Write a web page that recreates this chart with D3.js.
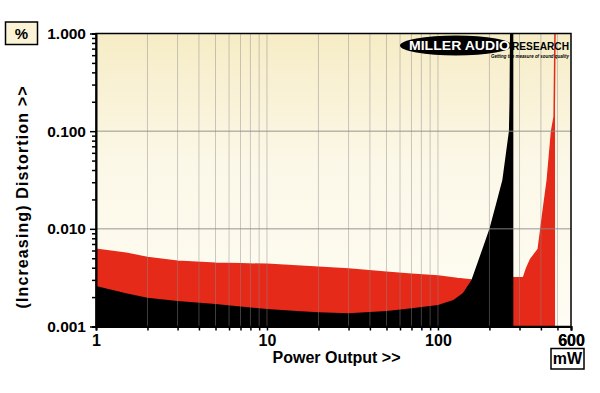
<!DOCTYPE html>
<html>
<head>
<meta charset="utf-8">
<script src="https://cdn.jsdelivr.net/npm/d3@7"></script>
<style>
  html, body { margin: 0; padding: 0; background: #fff; }
  svg { display: block; }
  text { font-family: "Liberation Sans", Arial, sans-serif; font-weight: bold; }
</style>
</head>
<body>
<svg id="chart" width="600" height="393"></svg>
<script>
// ---- data ----
const xTickLabels = [1, 10, 100, 600];
const yTickLabels = [0.001, 0.01, 0.1, 1];
const yTickText = ["0.001", "0.010", "0.100", "1.000"];

// black trace (power output mW, distortion %)
const blackX = [1, 1.5, 2, 3, 5, 7, 10, 15, 20, 30, 50, 70, 100, 123, 140, 157, 180, 200, 220, 238, 250, 260, 262, 264, 276];
const blackY = [0.0026, 0.00219, 0.00197, 0.00182, 0.0017, 0.0016, 0.00151, 0.00144, 0.0014, 0.00137, 0.00144, 0.00154, 0.00166, 0.00187, 0.0022, 0.003, 0.0059, 0.01, 0.0187, 0.0316, 0.06, 0.1, 0.2, 1.2, 1.2];

// red trace
const redX = [1, 1.5, 2, 3, 5, 7, 10, 20, 30, 50, 70, 100, 130, 157, 200, 278, 316, 330, 348, 386, 413, 436, 462, 478, 484];
const redY = [0.00617, 0.00561, 0.0051, 0.00465, 0.00444, 0.00438, 0.00433, 0.00404, 0.00388, 0.00359, 0.00342, 0.00329, 0.0031, 0.003, 0.003, 0.00316, 0.00316, 0.00394, 0.00487, 0.00617, 0.0156, 0.0316, 0.1, 0.14, 1.2];

// ---- layout ----
const svg = d3.select("#chart");
const L = 96, R = 571, T = 33.5, B = 326.5;
const x = d3.scaleLog().domain([1, 600]).range([L, R]);
const y = d3.scaleLog().domain([0.001, 1]).range([B, T]);

const defs = svg.append("defs");
const grad = defs.append("linearGradient").attr("id", "bg").attr("x1", 0).attr("y1", 0).attr("x2", 0).attr("y2", 1);
grad.append("stop").attr("offset", "0%").attr("stop-color", "#f6ecc6");
grad.append("stop").attr("offset", "45%").attr("stop-color", "#fcf8e8");
grad.append("stop").attr("offset", "100%").attr("stop-color", "#fefcf3");
defs.append("clipPath").attr("id", "clip").append("rect")
  .attr("x", L).attr("y", T).attr("width", R - L).attr("height", B - T);

svg.append("rect").attr("x", L).attr("y", T).attr("width", R - L).attr("height", B - T)
  .attr("fill", "url(#bg)");

// minor values
const xMinor = [];
[1, 10, 100].forEach(d => { for (let k = 1; k <= 9; k++) { const v = d * k; if (v <= 600) xMinor.push(v); } });
xMinor.push(600);
const yMinor = [];
[0.001, 0.01, 0.1].forEach(d => { for (let k = 1; k <= 9; k++) yMinor.push(+(d * k).toPrecision(3)); });
yMinor.push(1);

const plot = svg.append("g").attr("clip-path", "url(#clip)");

const toPts = (xs, ys) => xs.map((v, i) => [v, ys[i]]);
const area = d3.area().x(d => x(d[0])).y0(B).y1(d => y(Math.min(d[1], 1.5)));
const line = d3.line().x(d => x(d[0])).y(d => y(Math.min(d[1], 1.5)));

plot.append("path").attr("d", area(toPts(redX, redY))).attr("fill", "#e62a1a");
plot.append("path").attr("d", line(toPts(redX, redY))).attr("fill", "none").attr("stroke", "#e62a1a").attr("stroke-width", 1.5);
plot.append("path").attr("d", area(toPts(blackX, blackY))).attr("fill", "#000");

// gridlines on top
const grid = svg.append("g").attr("clip-path", "url(#clip)");
grid.selectAll("line.vx").data(xMinor.filter(v => v > 1 && v < 600)).join("line")
  .attr("x1", d => x(d)).attr("x2", d => x(d)).attr("y1", T).attr("y2", B)
  .attr("stroke", "#8a8a8a").attr("stroke-opacity", 0.45).attr("stroke-width", 1);
grid.selectAll("line.hy").data([0.01, 0.1]).join("line")
  .attr("x1", L).attr("x2", R).attr("y1", d => y(d)).attr("y2", d => y(d))
  .attr("stroke", "#8a8a8a").attr("stroke-opacity", 0.6).attr("stroke-width", 1.5);

// frame
svg.append("rect").attr("x", L).attr("y", T).attr("width", R - L).attr("height", B - T)
  .attr("fill", "none").attr("stroke", "#000").attr("stroke-width", 1.5);

// axes
const isMajorY = v => yTickLabels.some(t => Math.abs(t - v) < 1e-9);
const yAxis = svg.append("g").attr("transform", `translate(${L},0)`)
  .call(d3.axisLeft(y).tickValues(yMinor).tickSize(4).tickPadding(6)
    .tickFormat(v => { const i = yTickLabels.findIndex(t => Math.abs(t - v) < 1e-9); return i >= 0 ? yTickText[i] : ""; }));
yAxis.select(".domain").attr("stroke", "#000").attr("stroke-width", 2);
yAxis.selectAll(".tick line").attr("stroke", "#000").attr("stroke-width", 1.5)
  .attr("x2", d => isMajorY(d) ? -6 : -4);
yAxis.selectAll(".tick text").attr("font-size", "15.5px").attr("fill", "#000").attr("font-family", "Liberation Sans, Arial, sans-serif").attr("font-weight", "bold");

const xAxis = svg.append("g").attr("transform", `translate(0,${B})`)
  .call(d3.axisBottom(x).tickValues(xMinor).tickSize(4).tickPadding(4)
    .tickFormat(v => xTickLabels.includes(v) ? String(v) : ""));
xAxis.select(".domain").attr("stroke", "#000").attr("stroke-width", 2);
xAxis.selectAll(".tick line").attr("stroke", "#000").attr("stroke-width", 1.5);
xAxis.selectAll(".tick text").attr("font-size", "16px").attr("fill", "#000").attr("font-family", "Liberation Sans, Arial, sans-serif").attr("font-weight", "bold");

// axis titles
svg.append("text").attr("x", 336.5).attr("y", 362.5).attr("text-anchor", "middle")
  .attr("font-size", "16px").text("Power Output >>");
svg.append("text").attr("transform", "translate(27.5,197.5) rotate(-90)").attr("text-anchor", "middle")
  .attr("font-size", "16px").attr("textLength", 222).attr("lengthAdjust", "spacing")
  .text("(Increasing) Distortion >>");

// unit boxes
svg.append("rect").attr("x", 5.5).attr("y", 22).attr("width", 32).attr("height", 22.5)
  .attr("fill", "#faf3d6").attr("stroke", "#000").attr("stroke-width", 1.5);
svg.append("text").attr("x", 21.5).attr("y", 38.5).attr("text-anchor", "middle").attr("font-size", "15px").text("%");
svg.append("rect").attr("x", 551).attr("y", 348.5).attr("width", 33).attr("height", 20.5)
  .attr("fill", "#fff").attr("stroke", "#000").attr("stroke-width", 1.5);
svg.append("text").attr("x", 567.5).attr("y", 364).attr("text-anchor", "middle").attr("font-size", "16px").text("mW");

// logo
const logo = svg.append("g");
logo.append("ellipse").attr("cx", 456).attr("cy", 45.5).attr("rx", 56).attr("ry", 10).attr("fill", "#000");
logo.append("text").attr("x", 409).attr("y", 50).attr("font-size", "12px").attr("fill", "#fff")
  .attr("textLength", 101).attr("lengthAdjust", "spacingAndGlyphs").text("MILLER AUDIO");
logo.append("text").attr("x", 512).attr("y", 50).attr("font-size", "11.5px").attr("fill", "#000")
  .attr("textLength", 57).attr("lengthAdjust", "spacingAndGlyphs").text("RESEARCH");
logo.append("text").attr("x", 491).attr("y", 57.5).attr("font-size", "4.5px").attr("font-style", "italic").attr("fill", "#000")
  .attr("textLength", 78).attr("lengthAdjust", "spacingAndGlyphs").text("Getting the measure of sound quality");
</script>
</body>
</html>
